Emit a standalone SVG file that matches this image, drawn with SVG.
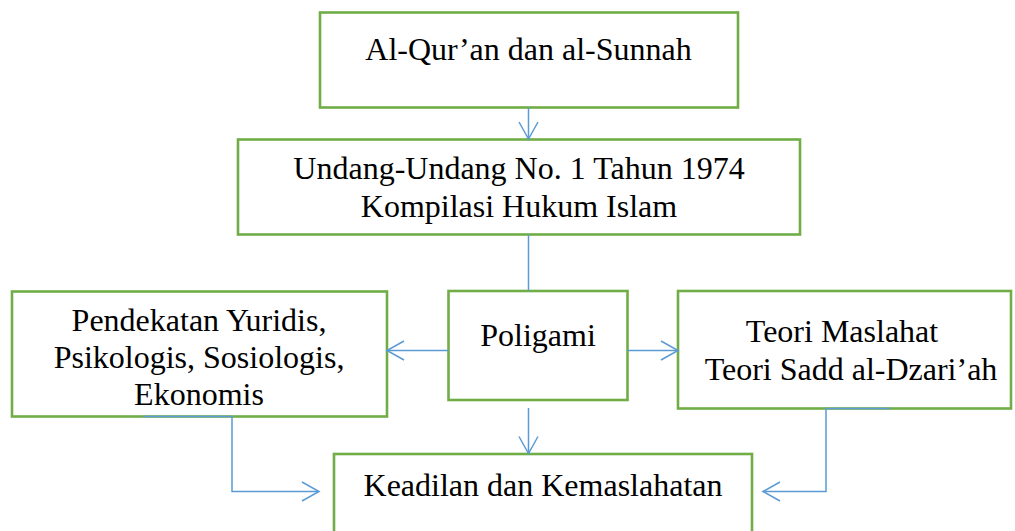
<svg xmlns="http://www.w3.org/2000/svg" width="1015" height="531" viewBox="0 0 1015 531">
<style>
.box{fill:#fff;stroke:#70AD47;stroke-width:2.6}
.t{font-family:"Liberation Serif","Times New Roman",serif;font-size:32px;fill:#000;text-anchor:middle}
.c{fill:none;stroke:#5B9BD5;stroke-width:1.5}
</style>
<defs>
<marker id="ah" markerUnits="userSpaceOnUse" markerWidth="24" markerHeight="24" viewBox="-20 -12 24 24" refX="0" refY="0" orient="auto" overflow="visible">
<path d="M-17,-9.5 L0,0 L-17,9.5" fill="none" stroke="#5B9BD5" stroke-width="1.5"/>
</marker>
</defs>
<rect width="1015" height="531" fill="#fff"/>
<g id="n1"><rect class="box" x="320" y="12.5" width="418" height="95"/><text class="t" x="528.5" y="60">Al-Qur’an dan al-Sunnah</text></g>
<g id="n2"><rect class="box" x="238" y="139.5" width="562" height="95"/><text class="t" x="519" y="179">Undang-Undang No. 1 Tahun 1974</text><text class="t" x="519" y="217">Kompilasi Hukum Islam</text></g>
<g id="n3"><rect class="box" x="12" y="291.5" width="375" height="125"/><text class="t" x="199" y="331">Pendekatan Yuridis,</text><text class="t" x="199" y="368">Psikologis, Sosiologis,</text><text class="t" x="199" y="405">Ekonomis</text></g>
<g id="n4"><rect class="box" x="448.5" y="291" width="179" height="109"/><text class="t" x="538" y="346">Poligami</text></g>
<g id="n5"><rect class="box" x="678" y="291" width="333" height="117.5"/><text class="t" x="842" y="342">Teori Maslahat</text><text class="t" x="851" y="380">Teori Sadd al-Dzari’ah</text></g>
<g id="n6"><rect class="box" x="334" y="454" width="418" height="95"/><text class="t" x="543" y="496">Keadilan dan Kemaslahatan</text></g>
<g id="connectors">
<path class="c" d="M528.5,107.5 V139" marker-end="url(#ah)"/>
<path class="c" d="M528.5,234.5 V291"/>
<path class="c" d="M448.5,350.5 H387" marker-end="url(#ah)"/>
<path class="c" d="M627.5,350.5 H678" marker-end="url(#ah)"/>
<path class="c" d="M528.5,408 V453.5" marker-end="url(#ah)"/>
<path class="c" d="M143,416.5 H232 V491.5 H319" marker-end="url(#ah)"/>
<path class="c" d="M890,408.5 H826 V491.5 H763" marker-end="url(#ah)"/>
</g>
</svg>
